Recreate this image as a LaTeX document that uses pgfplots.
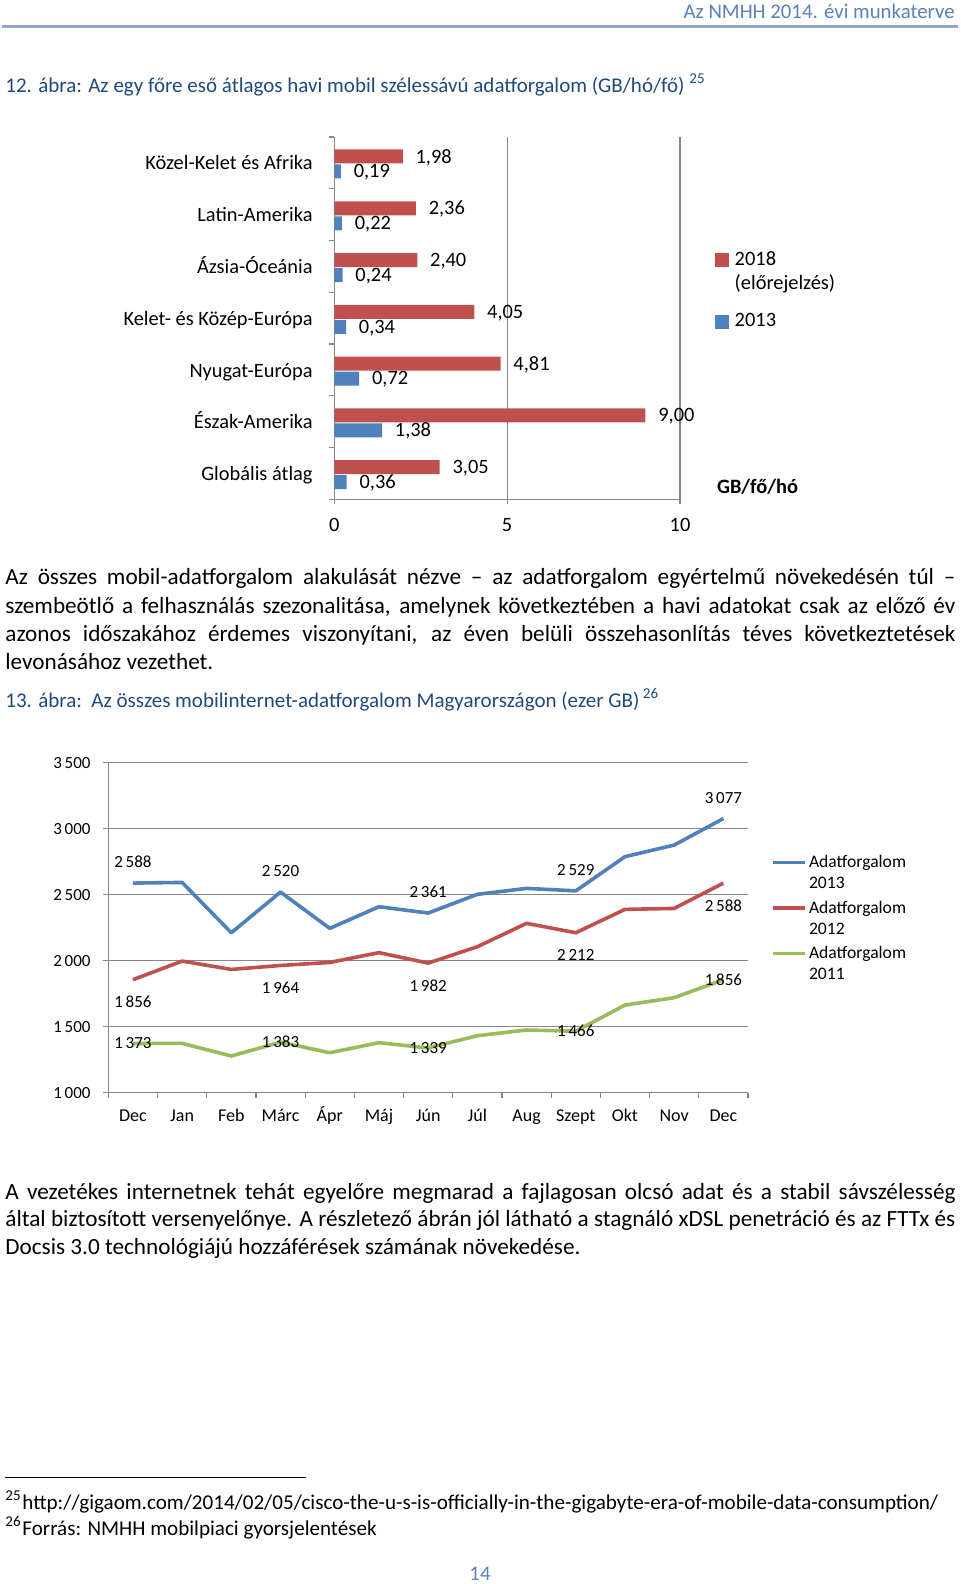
\documentclass[border=0pt]{standalone}
\usepackage{pgfplots}
\pgfplotsset{compat=1.18}
\usepackage{fontspec}
\setmainfont{Carlito}
\definecolor{cred}{HTML}{C0504D}
\definecolor{cblue}{HTML}{4F81BD}
\definecolor{cgreen}{HTML}{9BBB59}
\definecolor{axgray}{HTML}{868686}
\definecolor{capblue}{HTML}{1F497D}
\definecolor{hdrblue}{HTML}{5B81B8}
\definecolor{rulecol}{HTML}{8FA8C8}
\newcommand\bodyf{\fontsize{11.6}{14.2}\selectfont}
\newcommand\capf{\fontsize{10.5}{12.6}\selectfont}
\newcommand\hdrf{\fontsize{10.4}{12.5}\selectfont}
\newcommand\fnf{\fontsize{10.55}{12.6}\selectfont}
\newcommand\barf{\fontsize{10.2}{12}\selectfont}
\newcommand\linef{\fontsize{8.8}{10.5}\selectfont}
\newcommand\numf{\fontsize{8.5}{10}\selectfont}
\newcommand\sups[1]{\raisebox{4.5pt}{\fontsize{7.5}{8}\selectfont #1}}
\pgfplotsset{sqlegend/.style={legend image code/.code={\fill[##1] (0pt,-3.5pt) rectangle (7pt,3.5pt);}}}
\begin{document}
\begin{tikzpicture}
\begin{scope}[x=0.5pt,y=-0.5pt]
\path (0,0) rectangle (960,1584);
\node[anchor=base east,inner sep=0pt,font=\hdrf,text=hdrblue] at (955,18.3) {Az NMHH 2014. évi munkaterve};
\draw[rulecol,line width=1.5pt] (2,26.5) -- (958,26.5);
\node[anchor=base west,inner sep=0pt,font=\capf,text=capblue] at (5,92.2) {12. ábra: Az egy főre eső átlagos havi mobil szélessávú adatforgalom (GB/hó/fő) \sups{25}};
\node[anchor=base west,inner sep=0pt,font=\bodyf] at (5,584.8) {\makebox[475pt][s]{Az összes mobil-adatforgalom alakulását nézve – az adatforgalom egyértelmű növekedésén túl –}};
\node[anchor=base west,inner sep=0pt,font=\bodyf] at (5,613.1) {\makebox[475pt][s]{szembeötlő a felhasználás szezonalitása, amelynek következtében a havi adatokat csak az előző év}};
\node[anchor=base west,inner sep=0pt,font=\bodyf] at (5,641.4) {\makebox[475pt][s]{azonos időszakához érdemes viszonyítani, az éven belüli összehasonlítás téves következtetések}};
\node[anchor=base west,inner sep=0pt,font=\bodyf] at (5,669.7) {levonásához vezethet.};
\node[anchor=base west,inner sep=0pt,font=\capf,text=capblue] at (5,707.6) {13. ábra:\ \ Az összes mobilinternet-adatforgalom Magyarországon (ezer GB)\,\sups{26}};
\node[anchor=base west,inner sep=0pt,font=\bodyf] at (5,1199.2) {\makebox[475pt][s]{A vezetékes internetnek tehát egyelőre megmarad a fajlagosan olcsó adat és a stabil sávszélesség}};
\node[anchor=base west,inner sep=0pt,font=\bodyf] at (5,1226.5) {\makebox[475pt][s]{által biztosított versenyelőnye. A részletező ábrán jól látható a stagnáló xDSL penetráció és az FTTx és}};
\node[anchor=base west,inner sep=0pt,font=\bodyf] at (5,1254.8) {Docsis 3.0 technológiájú hozzáférések számának növekedése.};
\draw[line width=0.6pt] (5,1477.4) -- (306,1477.4);
\node[anchor=base west,inner sep=0pt,font=\fnf] at (5,1509.8) {\sups{25}};
\node[anchor=base west,inner sep=0pt,font=\fnf] at (22,1509.8) {http://gigaom.com/2014/02/05/cisco-the-u-s-is-officially-in-the-gigabyte-era-of-mobile-data-consumption/};
\node[anchor=base west,inner sep=0pt,font=\fnf] at (5,1535.2) {\sups{26}};
\node[anchor=base west,inner sep=0pt,font=\fnf] at (22,1535.2) {Forrás: NMHH mobilpiaci gyorsjelentések};
\node[anchor=base,inner sep=0pt,font=\hdrf,text=hdrblue] at (480,1580.7) {14};
\end{scope}

\begin{axis}[
  at={(167.15pt,-249.65pt)}, anchor=south west,
  scale only axis, width=172.85pt, height=181.15pt,
  xbar, bar width=7pt,
  xmin=0, xmax=10, ymin=-0.5, ymax=6.5, enlargelimits=false,
  axis x line*=bottom, axis y line*=left,
  axis line style={axgray, line width=0.6pt, -},
  xmajorgrids, grid style={axgray, line width=0.6pt},
  tick align=outside, major tick length=2.5pt,
  tick style={axgray, line width=0.6pt},
  xtick={0,5,10},
  ytick={-0.5,0.5,...,6.5},
  y tick label as interval,
  yticklabels={Globális átlag,Észak-Amerika,Nyugat-Európa,Kelet- és Közép-Európa,Ázsia-Óceánia,Latin-Amerika,Közel-Kelet és Afrika},
  tick label style={font=\barf},
  yticklabel style={inner sep=0pt, text height=8.2pt, text depth=1.5pt, xshift=-8.15pt, yshift=-0.2pt},
  xticklabel style={inner sep=0pt, text height=7pt, yshift=-6.45pt},
  /pgf/number format/assume math mode=true,
  point meta=x,
  nodes near coords,
  nodes near coords align={horizontal},
  every node near coord/.append style={font=\barf, inner sep=0pt, xshift=6.25pt, yshift=-0.5pt, text=black,
    /pgf/number format/fixed, /pgf/number format/fixed zerofill, /pgf/number format/precision=2, /pgf/number format/use comma},
  xlabel={\textbf{GB/fő/hó}},
  xlabel style={at={(rel axis cs:1,0)}, anchor=west, inner sep=0pt, xshift=18.3pt, yshift=6.2pt, font=\barf},
  legend style={draw=none, fill=none, at={(1.1005,0.6855)}, anchor=north west, inner sep=0pt, row sep=3.15pt, column sep=2.8pt, font=\barf, nodes={inner sep=0pt, text height=7pt, text depth=2pt}},
  legend cell align=left,
]
\addplot[fill=cred, draw=none, bar shift=3.2pt, sqlegend] coordinates {(3.05,0) (9.00,1) (4.81,2) (4.05,3) (2.40,4) (2.36,5) (1.98,6)};
\addlegendentry{2018}
\addlegendimage{legend image code/.code={}}
\addlegendentry[text depth=8.5pt]{(előrejelzés)}
\addplot[fill=cblue, draw=none, bar shift=-4.3pt, sqlegend] coordinates {(0.36,0) (1.38,1) (0.72,2) (0.34,3) (0.24,4) (0.22,5) (0.19,6)};
\addlegendentry{2013}
\end{axis}

\begin{axis}[
  at={(54.15pt,-546.35pt)}, anchor=south west,
  scale only axis, width=319.85pt, height=165pt,
  xmin=-0.5, xmax=12.5, ymin=1000, ymax=3500, enlargelimits=false,
  axis x line*=bottom, axis y line*=left,
  axis line style={axgray, line width=0.6pt, -},
  ymajorgrids, grid style={axgray, line width=0.6pt},
  tick align=outside, major tick length=2.5pt,
  tick style={axgray, line width=0.6pt},
  xtick={-0.5,0.5,...,12.5},
  x tick label as interval,
  xticklabels={Dec,Jan,Feb,Márc,Ápr,Máj,Jún,Júl,Aug,Szept,Okt,Nov,Dec},
  ytick={1000,1500,...,3500},
  scaled y ticks=false,
  xticklabel style={font=\fontsize{9}{10}\selectfont, inner sep=0pt, text height=7pt, text depth=2pt, yshift=-4.6pt},
  yticklabel style={font=\numf, inner sep=0pt, xshift=-6.15pt},
  /pgf/number format/assume math mode=true,
  /pgf/number format/1000 sep={\,},
  legend style={draw=none, fill=none, at={(1.036,0.7264)}, anchor=north west, inner sep=0pt, row sep=1.6pt, column sep=1pt, font=\linef, nodes={inner sep=0pt, text height=7pt, text depth=2pt}},
  legend cell align=left,
  legend image code/.code={\draw[#1] (0pt,0pt) -- (16pt,0pt);},
]
\addplot[cblue, line width=1.8pt, line join=round] coordinates {(0,2588) (1,2593) (2,2212) (3,2520) (4,2245) (5,2409) (6,2361) (7,2503) (8,2548) (9,2529) (10,2788) (11,2876) (12,3077)};
\addlegendentry{Adatforgalom}
\addlegendimage{legend image code/.code={}}
\addlegendentry[text depth=3.6pt]{2013}
\addplot[cred, line width=1.8pt, line join=round] coordinates {(0,1856) (1,1997) (2,1934) (3,1964) (4,1987) (5,2061) (6,1982) (7,2106) (8,2283) (9,2212) (10,2389) (11,2396) (12,2588)};
\addlegendentry{Adatforgalom}
\addlegendimage{legend image code/.code={}}
\addlegendentry[text depth=3.6pt]{2012}
\addplot[cgreen, line width=1.8pt, line join=round] coordinates {(0,1373) (1,1374) (2,1278) (3,1383) (4,1303) (5,1379) (6,1339) (7,1432) (8,1475) (9,1466) (10,1664) (11,1720) (12,1856)};
\addlegendentry{Adatforgalom}
\addlegendimage{legend image code/.code={}}
\addlegendentry{2011}
\addplot[draw=none, forget plot, nodes near coords, point meta=y, every node near coord/.append style={anchor=center, yshift=10.5pt, font=\numf, text=black, inner sep=0pt}] coordinates {(0,2588) (3,2520) (6,2361) (9,2529) (12,3077)};
\addplot[draw=none, forget plot, nodes near coords, point meta=y, every node near coord/.append style={anchor=center, yshift=-11.2pt, font=\numf, text=black, inner sep=0pt}] coordinates {(0,1856) (3,1964) (6,1982) (9,2212) (12,2588)};
\addplot[draw=none, forget plot, nodes near coords, point meta=y, every node near coord/.append style={anchor=center, font=\numf, text=black, inner sep=0pt}] coordinates {(0,1373) (3,1383) (6,1339) (9,1466) (12,1856)};
\end{axis}
\end{tikzpicture}
\end{document}
